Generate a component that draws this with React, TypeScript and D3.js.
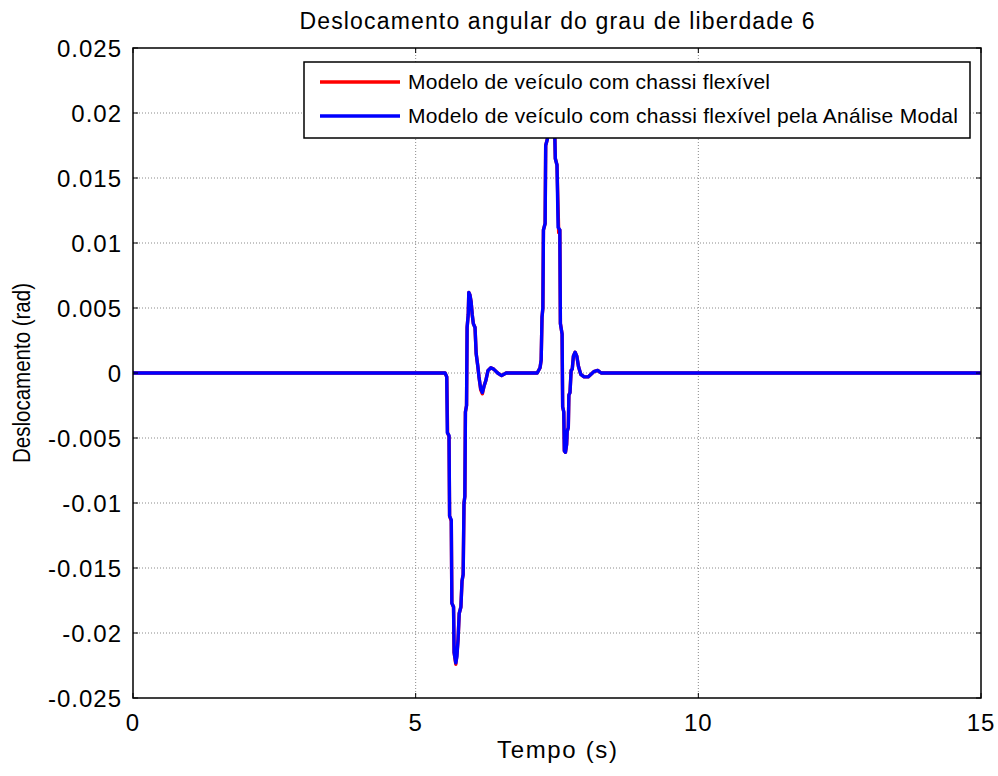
import React from "react";
import * as d3 from "d3";

const titleText = "Deslocamento angular do grau de liberdade 6";
const xLabel = "Tempo (s)";
const yLabel = "Deslocamento (rad)";
const seriesNames = [
  "Modelo de veículo com chassi flexível",
  "Modelo de veículo com chassi flexível pela Análise Modal",
];
const xTicks = [0, 5, 10, 15];
const yTicks = [-0.025, -0.02, -0.015, -0.01, -0.005, 0, 0.005, 0.01, 0.015, 0.02, 0.025];
const yTickLabels = ["-0.025", "-0.02", "-0.015", "-0.01", "-0.005", "0", "0.005", "0.01", "0.015", "0.02", "0.025"];

const timeBlue = [0, 5.52, 5.55, 5.56, 5.59, 5.6, 5.63, 5.64, 5.67, 5.68, 5.71, 5.73, 5.75, 5.77, 5.8, 5.82, 5.84, 5.855, 5.87, 5.88, 5.9, 5.91, 5.93, 5.94, 5.96, 5.98, 6.0, 6.02, 6.05, 6.07, 6.1, 6.12, 6.15, 6.18, 6.21, 6.24, 6.28, 6.33, 6.38, 6.45, 6.52, 6.6, 7.15, 7.2, 7.22, 7.235, 7.25, 7.26, 7.29, 7.3, 7.33, 7.36, 7.4, 7.44, 7.46, 7.47, 7.5, 7.52, 7.55, 7.56, 7.59, 7.6, 7.62, 7.63, 7.65, 7.67, 7.68, 7.7, 7.71, 7.73, 7.75, 7.77, 7.79, 7.82, 7.85, 7.88, 7.92, 7.98, 8.05, 8.15, 8.22, 8.28, 15];
const valueBlue = [0, 0, -0.0003, -0.0046, -0.0048, -0.011, -0.0113, -0.0177, -0.018, -0.0215, -0.0223, -0.0218, -0.0205, -0.0185, -0.018, -0.016, -0.0155, -0.01, -0.0095, -0.003, -0.0025, 0.0035, 0.0045, 0.0062, 0.006, 0.0055, 0.0045, 0.0038, 0.0035, 0.0015, 0.0005, -0.0003, -0.0012, -0.0015, -0.001, -0.0006, 0.0002, 0.0004, 0.0003, 0, -0.0002, 0, 0, 0.0004, 0.001, 0.0043, 0.005, 0.011, 0.0115, 0.0175, 0.018, 0.0215, 0.022, 0.02, 0.0185, 0.0165, 0.016, 0.0112, 0.011, 0.0038, 0.003, -0.0026, -0.003, -0.006, -0.0061, -0.0055, -0.0045, -0.0042, -0.0017, -0.0015, 0.0002, 0.0003, 0.0013, 0.0016, 0.0013, 0.0005, -0.0001, -0.0003, -0.0003, 0.0001, 0.0002, 0, 0];
const timeRed = [0, 5.52, 5.55, 5.565, 5.59, 5.6, 5.63, 5.64, 5.67, 5.68, 5.71, 5.73, 5.75, 5.77, 5.8, 5.82, 5.84, 5.855, 5.87, 5.88, 5.9, 5.91, 5.93, 5.94, 5.96, 5.98, 6.0, 6.02, 6.05, 6.07, 6.1, 6.12, 6.15, 6.18, 6.21, 6.24, 6.28, 6.33, 6.38, 6.45, 6.52, 6.6, 7.15, 7.2, 7.22, 7.235, 7.25, 7.26, 7.29, 7.3, 7.33, 7.36, 7.4, 7.44, 7.46, 7.47, 7.5, 7.53, 7.55, 7.56, 7.59, 7.6, 7.62, 7.63, 7.65, 7.67, 7.68, 7.7, 7.71, 7.73, 7.75, 7.77, 7.79, 7.82, 7.85, 7.88, 7.92, 7.98, 8.05, 8.15, 8.22, 8.28, 15];
const valueRed = [0, 0, -0.0003, -0.0046, -0.0049, -0.011, -0.0114, -0.0177, -0.018, -0.0215, -0.0224, -0.0216, -0.0205, -0.0185, -0.018, -0.016, -0.0155, -0.01, -0.0095, -0.003, -0.0025, 0.0035, 0.0045, 0.0062, 0.006, 0.0055, 0.0045, 0.0038, 0.0035, 0.0015, 0.0005, -0.0003, -0.0013, -0.0016, -0.001, -0.0006, 0.0002, 0.0004, 0.0003, 0, -0.0002, 0, 0, 0.0004, 0.001, 0.0043, 0.005, 0.011, 0.0115, 0.0175, 0.018, 0.0215, 0.022, 0.02, 0.0185, 0.0165, 0.016, 0.0108, 0.011, 0.0038, 0.003, -0.0026, -0.003, -0.006, -0.0061, -0.0055, -0.0045, -0.0042, -0.0017, -0.0015, 0.0002, 0.0003, 0.0013, 0.0016, 0.0013, 0.0005, -0.0001, -0.0003, -0.0003, 0.0001, 0.0002, 0, 0];

const W = 998;
const H = 776;
const M = { left: 133, right: 17, top: 48, bottom: 78 };
const FONT = "Arial, 'Liberation Sans', sans-serif";

export default function App() {
  const x = d3.scaleLinear().domain([0, 15]).range([M.left, W - M.right]);
  const y = d3.scaleLinear().domain([-0.025, 0.025]).range([H - M.bottom, M.top]);
  const line = d3
    .line<[number, number]>()
    .x((d) => x(d[0]))
    .y((d) => y(d[1]));
  const red: [number, number][] = timeRed.map((t, i) => [t, valueRed[i]]);
  const blue: [number, number][] = timeBlue.map((t, i) => [t, valueBlue[i]]);
  const x0 = x(0), x1 = x(15), y0 = y(-0.025), y1 = y(0.025);
  const tk = 5;
  const legend = { x: 304, y: 62, w: 666, h: 76 };

  return (
    <svg width={W} height={H} style={{ position: "absolute", left: 0, top: 0, background: "#fff" }} fontFamily={FONT}>
      <rect x={0} y={0} width={W} height={H} fill="#fff" />
      {/* grid */}
      {xTicks.slice(1, -1).map((t) => (
        <line key={"gx" + t} x1={x(t)} x2={x(t)} y1={y0} y2={y1} stroke="#8a8a8a" strokeWidth={1} strokeDasharray="1,2" />
      ))}
      {yTicks.slice(1, -1).map((t) => (
        <line key={"gy" + t} x1={x0} x2={x1} y1={y(t)} y2={y(t)} stroke="#8a8a8a" strokeWidth={1} strokeDasharray="1,2" />
      ))}
      {/* lines */}
      <path d={line(red) || ""} fill="none" stroke="#ff0000" strokeWidth={3.4} strokeLinejoin="round" />
      <path d={line(blue) || ""} fill="none" stroke="#0000ff" strokeWidth={3.4} strokeLinejoin="round" />
      {/* axes box */}
      <rect x={x0} y={y1} width={x1 - x0} height={y0 - y1} fill="none" stroke="#000" strokeWidth={1.5} />
      {/* ticks */}
      {xTicks.map((t) => (
        <g key={"tx" + t}>
          <line x1={x(t)} x2={x(t)} y1={y0} y2={y0 - tk} stroke="#000" />
          <line x1={x(t)} x2={x(t)} y1={y1} y2={y1 + tk} stroke="#000" />
          <text x={x(t)} y={y0 + 33} textAnchor="middle" fontSize={24} letterSpacing={1}>{t}</text>
        </g>
      ))}
      {yTicks.map((t, i) => (
        <g key={"ty" + t}>
          <line x1={x0} x2={x0 + tk} y1={y(t)} y2={y(t)} stroke="#000" />
          <line x1={x1} x2={x1 - tk} y1={y(t)} y2={y(t)} stroke="#000" />
          <text x={x0 - 11} y={y(t) + 8.5} textAnchor="end" fontSize={24} letterSpacing={1}>{yTickLabels[i]}</text>
        </g>
      ))}
      {/* labels */}
      <text x={(x0 + x1) / 2} y={29} textAnchor="middle" fontSize={23} textLength={515} lengthAdjust="spacing">{titleText}</text>
      <text x={(x0 + x1) / 2} y={758} textAnchor="middle" fontSize={24} textLength={120} lengthAdjust="spacing">{xLabel}</text>
      <text transform={`translate(30,${(y0 + y1) / 2}) rotate(-90)`} textAnchor="middle" fontSize={23} textLength={180} lengthAdjust="spacingAndGlyphs">{yLabel}</text>
      {/* legend */}
      <rect x={legend.x} y={legend.y} width={legend.w} height={legend.h} fill="#fff" stroke="#000" strokeWidth={1.5} />
      <line x1={320} x2={400} y1={82} y2={82} stroke="#ff0000" strokeWidth={3.4} />
      <line x1={320} x2={400} y1={116} y2={116} stroke="#0000ff" strokeWidth={3.4} />
      <text x={408} y={89} fontSize={21} textLength={362} lengthAdjust="spacing">{seriesNames[0]}</text>
      <text x={408} y={123} fontSize={21} textLength={550} lengthAdjust="spacing">{seriesNames[1]}</text>
    </svg>
  );
}
